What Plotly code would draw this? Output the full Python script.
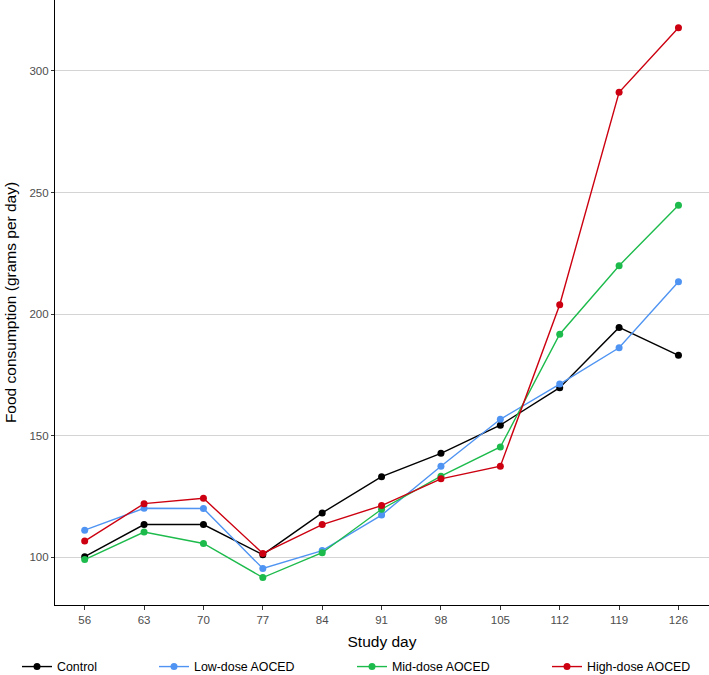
import plotly.graph_objects as go

days = [56, 63, 70, 77, 84, 91, 98, 105, 112, 119, 126]
control = [100.2, 113.4, 113.4, 101.0, 118.2, 133.1, 142.7, 154.3, 169.7, 194.5, 183.0]
low_dose = [111.1, 120.1, 120.0, 95.3, 102.7, 117.3, 137.4, 156.7, 171.2, 186.1, 213.3]
mid_dose = [99.0, 110.3, 105.6, 91.6, 101.8, 119.7, 133.3, 145.3, 191.7, 219.9, 244.8]
high_dose = [106.6, 122.0, 124.2, 101.5, 113.4, 121.2, 132.2, 137.4, 203.8, 291.2, 317.8]

series_names = ["Control", "Low-dose AOCED", "Mid-dose AOCED", "High-dose AOCED"]
series_values = [control, low_dose, mid_dose, high_dose]
colors = ["#000000", "#4F94F2", "#1DBB4C", "#CC0010"]
legend_ids = ["legend", "legend2", "legend3", "legend4"]
legend_text_x = [57, 194, 392, 587]

W, H = 709, 675
FONT = "Liberation Sans, Arial, sans-serif"

fig = go.Figure()
for name, vals, col, lid in zip(series_names, series_values, colors, legend_ids):
    fig.add_trace(go.Scatter(
        x=days, y=vals, name=name, mode="lines+markers",
        line=dict(color=col, width=1.4),
        marker=dict(color=col, size=7),
        legend=lid,
    ))

layout_legends = {}
for lid, tx in zip(legend_ids, legend_text_x):
    layout_legends[lid] = dict(
        orientation="h", xref="container", yref="container",
        x=(tx - 40) / W, xanchor="left",
        y=1 - 652 / H, yanchor="top",
        font=dict(family=FONT, size=12.4, color="#000000"),
        bgcolor="rgba(0,0,0,0)", borderwidth=0,
        itemclick=False, itemdoubleclick=False,
    )

fig.update_layout(
    width=W, height=H,
    margin=dict(l=55, r=0, t=0, b=70, autoexpand=False),
    plot_bgcolor="white", paper_bgcolor="white",
    font=dict(family=FONT),
    showlegend=True,
    **layout_legends,
)

fig.update_xaxes(
    automargin=False,
    range=[52.5, 129.6],
    tickmode="array", tickvals=days, ticktext=[str(d) for d in days],
    showgrid=False, zeroline=False,
    showline=True, linecolor="#000000", linewidth=1.2,
    ticks="outside", ticklen=4, tickcolor="#333333", tickwidth=1,
    tickfont=dict(family=FONT, size=11.5, color="#4D4D4D"),
    title=dict(text="Study day", font=dict(family=FONT, size=15.5, color="#000000"), standoff=11),
)
fig.update_yaxes(
    automargin=False,
    range=[80.3, 329.2],
    tickmode="array", tickvals=[100, 150, 200, 250, 300],
    showgrid=True, gridcolor="#D4D4D4", gridwidth=1.1,
    zeroline=False,
    showline=True, linecolor="#000000", linewidth=1.2,
    ticks="outside", ticklen=3, tickcolor="#333333", tickwidth=1,
    tickfont=dict(family=FONT, size=11.5, color="#4D4D4D"),
    title=dict(text="Food consumption (grams per day)", font=dict(family=FONT, size=15.5, color="#000000"), standoff=8),
)

fig.write_html(
    "out.html",
    config={"displayModeBar": False},
    post_script="document.body.style.margin='0';document.body.style.padding='0';",
)
